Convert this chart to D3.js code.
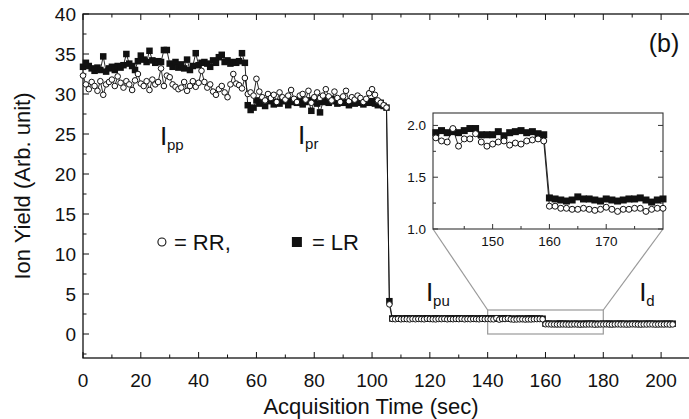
<!DOCTYPE html>
<html lang="en">
<head>
<meta charset="utf-8">
<title>Ion Yield vs Acquisition Time</title>
<script src="https://cdn.jsdelivr.net/npm/d3@7"></script>
<style>
    body { margin: 0; background: #fff; }
    svg { display: block; }
    text { font-family: "Liberation Sans", Arial, Helvetica, sans-serif; fill: #111; }
</style>
</head>
<body>
<svg id="chart" width="689" height="419"></svg>
<script>
    // ---- data, one value per second ----
    // segment start times (sec): pp, pr, pu, d
    const segStart = [0, 57, 106, 160];

    // I_pp, t = 0..56
    const rrPP = [32.3, 31.2, 30.6, 31.5, 31.0, 30.4, 31.6, 29.9, 31.2, 31.5,
                  31.8, 31.0, 32.2, 31.4, 30.8, 31.6, 31.2, 30.5, 31.7, 32.5,
                  31.3, 31.0, 31.6, 30.5, 31.8, 31.2, 31.5, 33.2, 31.0, 32.3,
                  32.1, 31.2, 30.9, 30.6, 30.8, 31.5, 30.4, 31.0, 31.6, 30.9,
                  31.4, 32.9, 31.5, 30.8, 31.2, 30.3, 29.9, 30.6, 31.0, 30.2,
                  29.6, 31.2, 32.5, 31.3, 31.1, 30.7, 32.0];
    const lrPP = [33.4, 33.9, 33.5, 33.2, 32.9, 33.3, 33.0, 34.7, 32.8, 33.2,
                  33.4, 33.0, 33.5, 33.3, 33.6, 35.0, 33.8, 33.5, 33.0, 34.1,
                  34.8, 34.3, 34.0, 35.4, 34.2, 33.9, 34.1, 34.0, 35.5, 35.5,
                  33.8, 33.4, 34.0, 33.3, 33.7, 33.2, 34.3, 33.0, 33.5, 35.1,
                  33.6, 33.9, 34.0, 33.8, 33.4, 34.2, 33.9, 34.6, 34.9, 34.0,
                  34.2, 33.8, 34.0, 33.9, 34.1, 35.1, 33.9];

    // I_pr, t = 57..105
    const rrPR = [30.0, 30.2, 29.8, 31.9, 30.3, 29.6, 29.2, 30.0, 29.5, 29.9,
                  29.0, 30.2, 29.6, 29.3, 29.8, 30.5, 29.4, 29.0, 29.8, 30.0,
                  29.3, 30.4, 28.9, 29.6, 30.2, 29.5, 29.8, 30.6, 29.7, 29.2,
                  30.3, 29.5, 29.0, 29.7, 30.4, 29.1, 29.6, 29.3, 29.8, 29.5,
                  29.0, 29.4, 30.1, 30.6, 29.9, 29.2, 28.9, 28.6, 28.3];
    const lrPR = [28.6, 28.0, 28.3, 29.2, 28.8, 29.0, 28.5, 29.1, 29.3, 28.7,
                  29.0, 28.8, 29.4, 29.1, 28.6, 29.2, 29.0, 28.9, 29.3, 28.7,
                  29.0, 29.2, 27.9, 29.1, 28.8, 27.7, 29.0, 29.3, 28.9, 29.4,
                  29.1, 28.8, 29.2, 28.9, 29.0, 28.6, 29.1, 28.8, 29.3, 28.9,
                  28.7, 29.0, 28.9, 29.1, 28.8, 28.6, 28.9, 28.5, 28.3];

    // I_pu, t = 106..159 (first point is the transition)
    const rrPU = [3.7,
                  1.88, 1.85, 1.90, 1.84, 1.87, 1.86, 1.83, 1.89, 1.85, 1.88,
                  1.86, 1.84, 1.90, 1.87, 1.85, 1.83, 1.88, 1.86, 1.89, 1.84,
                  1.87, 1.85, 1.88, 1.86, 1.90, 1.84, 1.87, 1.85, 1.88, 1.86,
                  1.84, 1.89, 1.86,
                  1.88, 1.85, 1.84, 1.97, 1.80, 1.87, 1.87, 1.92, 1.84, 1.80,
                  1.82, 1.84, 1.85, 1.81, 1.83, 1.82, 1.85, 1.86, 1.87, 1.85];
    const lrPU = [4.1,
                  1.94, 1.93, 1.95, 1.92, 1.94, 1.96, 1.93, 1.94, 1.92, 1.95,
                  1.93, 1.94, 1.96, 1.92, 1.93, 1.95, 1.94, 1.92, 1.94, 1.93,
                  1.95, 1.93, 1.94, 1.96, 1.92, 1.94, 1.93, 1.95, 1.94, 1.92,
                  1.94, 1.93, 1.95,
                  1.93, 1.95, 1.93, 1.94, 1.93, 1.95, 1.97, 1.97, 1.91, 1.91,
                  1.91, 1.94, 1.90, 1.93, 1.94, 1.95, 1.93, 1.94, 1.92, 1.91];

    // I_d, t = 160..204
    const rrD = [1.22, 1.22, 1.20, 1.20, 1.19, 1.19, 1.20, 1.19, 1.18, 1.19,
                 1.21, 1.19, 1.17, 1.19, 1.19, 1.20, 1.20, 1.17, 1.19, 1.20,
                 1.20, 1.21, 1.19, 1.18, 1.20, 1.21, 1.19, 1.20, 1.18, 1.19,
                 1.21, 1.20, 1.19, 1.18, 1.20, 1.19, 1.21, 1.20, 1.18, 1.19,
                 1.20, 1.19, 1.21, 1.18, 1.20];
    const lrD = [1.30, 1.29, 1.28, 1.27, 1.28, 1.31, 1.29, 1.29, 1.28, 1.27,
                 1.29, 1.28, 1.27, 1.28, 1.29, 1.29, 1.30, 1.28, 1.26, 1.28,
                 1.29, 1.28, 1.30, 1.27, 1.29, 1.28, 1.30, 1.29, 1.27, 1.28,
                 1.29, 1.30, 1.28, 1.27, 1.29, 1.28, 1.30, 1.29, 1.28, 1.27,
                 1.29, 1.28, 1.30, 1.28, 1.29];

    const xTicks = [0, 20, 40, 60, 80, 100, 120, 140, 160, 180, 200];
    const yTicks = [0, 5, 10, 15, 20, 25, 30, 35, 40];
    const insetXTicks = [150, 160, 170];
    const insetYTicks = [1.0, 1.5, 2.0];

    // region labels: [main, subscript, t, value]
    const regionLabels = [["I", "pp", 26.6, 23.6], ["I", "pr", 74.4, 23.8],
                          ["I", "pu", 118.7, 4.1], ["I", "d", 192.4, 4.1]];

    // stitch segments into one series per polarisation
    function stitch(parts) {
        return parts.flatMap((vals, k) => vals.map((v, i) => ({t: segStart[k] + i, v: v})));
    }
    const rr = stitch([rrPP, rrPR, rrPU, rrD]);
    const lr = stitch([lrPP, lrPR, lrPU, lrD]);

    // ---- layout ----
    const svg = d3.select('#chart');

    const x = d3.scaleLinear().domain([0, 210]).range([83, 690]);
    const y = d3.scaleLinear().domain([-3, 40]).range([358, 14]);

    // main frame
    svg.append('rect')
        .attr('x', x(0)).attr('y', y(40))
        .attr('width', x(210) - x(0)).attr('height', y(-3) - y(40))
        .attr('fill', 'none').attr('stroke', '#111').attr('stroke-width', 1.3);

    // ticks (inward), major + minor
    const tickG = svg.append('g').attr('stroke', '#111').attr('stroke-width', 1);
    d3.range(0, 211, 10).forEach(t => {
        const len = t % 20 === 0 ? 6 : 3.5;
        tickG.append('line').attr('x1', x(t)).attr('x2', x(t)).attr('y1', y(-3)).attr('y2', y(-3) - len);
        tickG.append('line').attr('x1', x(t)).attr('x2', x(t)).attr('y1', y(40)).attr('y2', y(40) + len);
    });
    d3.range(-2.5, 40.1, 2.5).forEach(v => {
        const len = v % 5 === 0 ? 6 : 3.5;
        tickG.append('line').attr('x1', x(0)).attr('x2', x(0) + len).attr('y1', y(v)).attr('y2', y(v));
    });

    // tick labels
    svg.append('g').selectAll('text').data(xTicks).join('text')
        .attr('x', d => x(d)).attr('y', 387)
        .attr('text-anchor', 'middle').style('font-size', '19px')
        .text(d => d);
    svg.append('g').selectAll('text').data(yTicks).join('text')
        .attr('x', 76).attr('y', d => y(d)).attr('dy', '0.36em')
        .attr('text-anchor', 'end').style('font-size', '19px')
        .text(d => d);

    // axis titles
    svg.append('text')
        .attr('x', 371).attr('y', 414)
        .attr('text-anchor', 'middle').style('font-size', '22px')
        .text('Acquisition Time (sec)');
    svg.append('text')
        .attr('transform', 'translate(30,186) rotate(-90)')
        .attr('text-anchor', 'middle').style('font-size', '22px')
        .text('Ion Yield (Arb. unit)');

    svg.append('text')
        .attr('x', 664).attr('y', 52)
        .attr('text-anchor', 'middle').style('font-size', '25px')
        .text('(b)');

    // region labels
    regionLabels.forEach(([m, s, t, v]) => {
        svg.append('text').attr('x', x(t)).attr('y', y(v)).style('font-size', '26px').text(m);
        svg.append('text').attr('x', x(t) + 7).attr('y', y(v) + 5).style('font-size', '15px').text(s);
    });

    // legend
    svg.append('circle').attr('cx', x(27.3)).attr('cy', y(11.5)).attr('r', 4)
        .attr('fill', '#fff').attr('stroke', '#111').attr('stroke-width', 1.1);
    svg.append('text').attr('x', x(27.3) + 12).attr('y', y(11.5) + 7.5)
        .style('font-size', '22px').text('= RR,');
    svg.append('rect').attr('x', x(74) - 5).attr('y', y(11.5) - 5).attr('width', 10).attr('height', 10)
        .attr('fill', '#111');
    svg.append('text').attr('x', x(74) + 15).attr('y', y(11.5) + 7.5)
        .style('font-size', '22px').text('= LR');

    // zoom rectangle + connectors to inset
    const zoomT = [140, 180], zoomV = [0, 3];
    const ix = d3.scaleLinear().domain([139.5, 180]).range([433, 663]);
    const iy = d3.scaleLinear().domain([1.0, 2.12]).range([229, 113]);

    svg.append('rect')
        .attr('x', x(zoomT[0])).attr('y', y(zoomV[1]))
        .attr('width', x(zoomT[1]) - x(zoomT[0])).attr('height', y(zoomV[0]) - y(zoomV[1]))
        .attr('fill', 'none').attr('stroke', '#999').attr('stroke-width', 1.2);
    svg.append('line')
        .attr('x1', ix(139.5)).attr('y1', iy(1.0)).attr('x2', x(zoomT[0])).attr('y2', y(zoomV[1]))
        .attr('stroke', '#999').attr('stroke-width', 1.2);
    svg.append('line')
        .attr('x1', ix(180)).attr('y1', iy(1.0)).attr('x2', x(zoomT[1])).attr('y2', y(zoomV[1]))
        .attr('stroke', '#999').attr('stroke-width', 1.2);

    // series drawing helper
    function drawSeries(g, xs, ys, rrData, lrData, sq, r) {
        const line = d3.line().x(d => xs(d.t)).y(d => ys(d.v));
        g.append('path').datum(lrData).attr('d', line)
            .attr('fill', 'none').attr('stroke', '#111').attr('stroke-width', 0.9);
        g.append('path').datum(rrData).attr('d', line)
            .attr('fill', 'none').attr('stroke', '#111').attr('stroke-width', 0.9);
        g.append('g').selectAll('rect').data(lrData).join('rect')
            .attr('x', d => xs(d.t) - sq / 2).attr('y', d => ys(d.v) - sq / 2)
            .attr('width', sq).attr('height', sq).attr('fill', '#111');
        g.append('g').selectAll('circle').data(rrData).join('circle')
            .attr('cx', d => xs(d.t)).attr('cy', d => ys(d.v)).attr('r', r)
            .attr('fill', '#fff').attr('stroke', '#111').attr('stroke-width', 1);
    }

    drawSeries(svg.append('g'), x, y, rr, lr, 6.5, 2.8);

    // ---- inset ----
    const inset = svg.append('g');
    inset.append('rect')
        .attr('x', ix(139.5)).attr('y', iy(2.12))
        .attr('width', ix(180) - ix(139.5)).attr('height', iy(1.0) - iy(2.12))
        .attr('fill', '#fff').attr('stroke', '#333').attr('stroke-width', 1.1);

    const iTicks = inset.append('g').attr('stroke', '#333').attr('stroke-width', 1);
    d3.range(1.0, 2.11, 0.25).forEach(v => {
        const len = Math.abs(v * 2 - Math.round(v * 2)) < 1e-6 ? 5 : 3;
        iTicks.append('line').attr('x1', ix(139.5)).attr('x2', ix(139.5) + len).attr('y1', iy(v)).attr('y2', iy(v));
        iTicks.append('line').attr('x1', ix(180)).attr('x2', ix(180) - len).attr('y1', iy(v)).attr('y2', iy(v));
    });
    d3.range(145, 180, 5).forEach(t => {
        const len = t % 10 === 0 ? 5 : 3;
        iTicks.append('line').attr('x1', ix(t)).attr('x2', ix(t)).attr('y1', iy(1.0)).attr('y2', iy(1.0) - len);
    });

    inset.append('g').selectAll('text').data(insetXTicks).join('text')
        .attr('x', d => ix(d)).attr('y', 246)
        .attr('text-anchor', 'middle').style('font-size', '13.5px')
        .text(d => d);
    inset.append('g').selectAll('text').data(insetYTicks).join('text')
        .attr('x', 426).attr('y', d => iy(d)).attr('dy', '0.36em')
        .attr('text-anchor', 'end').style('font-size', '13.5px')
        .text(d => d.toFixed(1));

    const inRange = d => d.t >= 140 && d.t <= 180;
    drawSeries(inset.append('g'), ix, iy, rr.filter(inRange), lr.filter(inRange), 7, 3);
</script>
</body>
</html>
